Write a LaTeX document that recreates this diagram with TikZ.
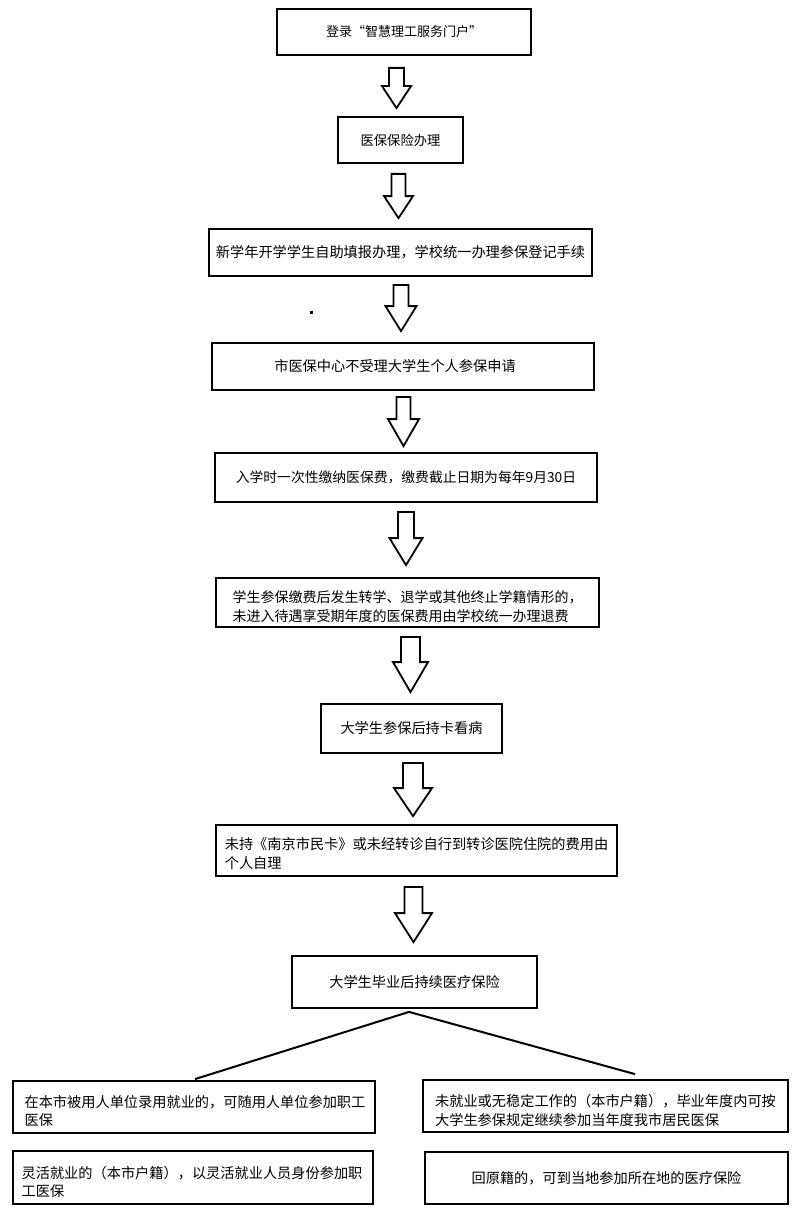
\documentclass[tikz,border=0pt]{standalone}
\usepackage{fontspec}
\newfontfamily\cjk{Noto Sans CJK SC}
\usetikzlibrary{calc}
\tikzset{
  box/.style={draw=black, line width=1.8pt, rectangle, inner sep=0pt, align=left,
    font=\cjk\fontsize{14.2pt}{18.5pt}\selectfont},
  boxtext/.style={inner sep=0pt, align=left, font=\cjk\fontsize{14.2pt}{18.5pt}\selectfont},
  blockarrow/.style={draw=black, line width=1.8pt, fill=white, line join=miter},
  branch/.style={draw=black, line width=2pt},
}
% from, to, x centre, top gap, tip gap, shaft half width, head half width, head length
\newcommand{\blockarr}[8]{%
  \draw[blockarrow] let \p1=(#1.south), \p2=(#2.north) in
    ({#3-#6},\y1-#4pt) -- ({#3+#6},\y1-#4pt) -- ({#3+#6},\y2+#5pt+#8pt)
    -- ({#3+#7},\y2+#5pt+#8pt) -- (#3,\y2+#5pt) -- ({#3-#7},\y2+#5pt+#8pt)
    -- ({#3-#6},\y2+#5pt+#8pt) -- cycle;}
\begin{document}
\begin{tikzpicture}[x=1pt,y=-1pt]
\fill[white] (0,0) rectangle (799,1209);
\useasboundingbox (0,0) rectangle (799,1209);

\node[box, minimum width=254pt, minimum height=46pt, font=\cjk\fontsize{13pt}{18pt}\selectfont] (b1) at (404,32) {登录“智慧理工服务门户”};
\node[box, minimum width=125pt, minimum height=46pt, font=\cjk\fontsize{13.3pt}{18pt}\selectfont] (b2) at (400.5,140) {医保保险办理};
\node[box, minimum width=383pt, minimum height=47pt] (b3) at (400.5,252.5) {新学年开学学生自助填报办理，学校统一办理参保登记手续};
\node[box, minimum width=382pt, minimum height=47pt] (b4) at (403,366.5) {市医保中心不受理大学生个人参保申请\hspace*{16pt}};
\node[box, minimum width=382pt, minimum height=49pt, font=\cjk\fontsize{13.8pt}{18pt}\selectfont] (b5) at (406,477.5) {入学时一次性缴纳医保费，缴费截止日期为每年9月30日};
\node[box, minimum width=383pt, minimum height=49pt] (b6) at (407.5,602.5) {};
\node[boxtext, font=\cjk\fontsize{14pt}{19pt}\selectfont] (t6) at ($(b6.center)+(0,4)$) {学生参保缴费后发生转学、退学或其他终止学籍情形的，\\未进入待遇享受期年度的医保费用由学校统一办理退费};
\node[box, minimum width=181pt, minimum height=49pt] (b7) at (411.5,728.5) {大学生参保后持卡看病};
\node[box, minimum width=401pt, minimum height=51pt] (b8) at (416.5,850.5) {};
\node[boxtext] (t8) at ($(b8.center)+(0,3)$) {未持《南京市民卡》或未经转诊自行到转诊医院住院的费用由\\个人自理};
\node[box, minimum width=245pt, minimum height=52pt] (b9) at (414.5,982) {大学生毕业后持续医疗保险};
\node[box, minimum width=362pt, minimum height=52pt] (b10) at (194,1107) {};
\node[boxtext] (t10) at ($(b10.center)+(1,4)$) {在本市被用人单位录用就业的，可随用人单位参加职工\\医保};
\node[box, minimum width=360pt, minimum height=53pt] (b11) at (193,1177.5) {};
\node[boxtext] (t11) at ($(b11.center)+(-1,4.5)$) {灵活就业的（本市户籍），以灵活就业人员身份参加职\\工医保};
\node[box, minimum width=365pt, minimum height=52pt] (b12) at (605.5,1106) {};
\node[boxtext, font=\cjk\fontsize{14.2pt}{19pt}\selectfont] (t12) at ($(b12.center)+(0,4.5)$) {未就业或无稳定工作的（本市户籍），毕业年度内可按\\大学生参保规定继续参加当年度我市居民医保};
\node[box, minimum width=363pt, minimum height=52pt] (b13) at (606.5,1178) {回原籍的，可到当地参加所在地的医疗保险};

\blockarr{b1}{b2}{396.5}{12}{8}{7.5}{14.5}{22}
\blockarr{b2}{b3}{398.5}{10}{10}{7}{14.5}{22}
\blockarr{b3}{b4}{401}{8}{11}{7.5}{15.5}{25}
\blockarr{b4}{b5}{403.5}{6}{6}{7}{15.5}{27}
\blockarr{b5}{b6}{406}{9}{12}{8}{16.5}{27}
\blockarr{b6}{b7}{410.5}{9}{11}{9.5}{17.5}{30}
\blockarr{b7}{b8}{413}{9}{8}{10}{19}{28}
\blockarr{b8}{b9}{413.5}{10}{13}{9}{18.5}{29}

\fill[black] (309.5,310.5) rectangle (312.5,313.5);

\draw[branch] ($(b9.south)+(-5.5,3)$) -- ($(b10.north)+(1,-1)$);
\draw[branch] ($(b9.south)+(-5.5,3)$) -- ($(b12.north)+(29.5,-5)$);
\end{tikzpicture}
\end{document}
